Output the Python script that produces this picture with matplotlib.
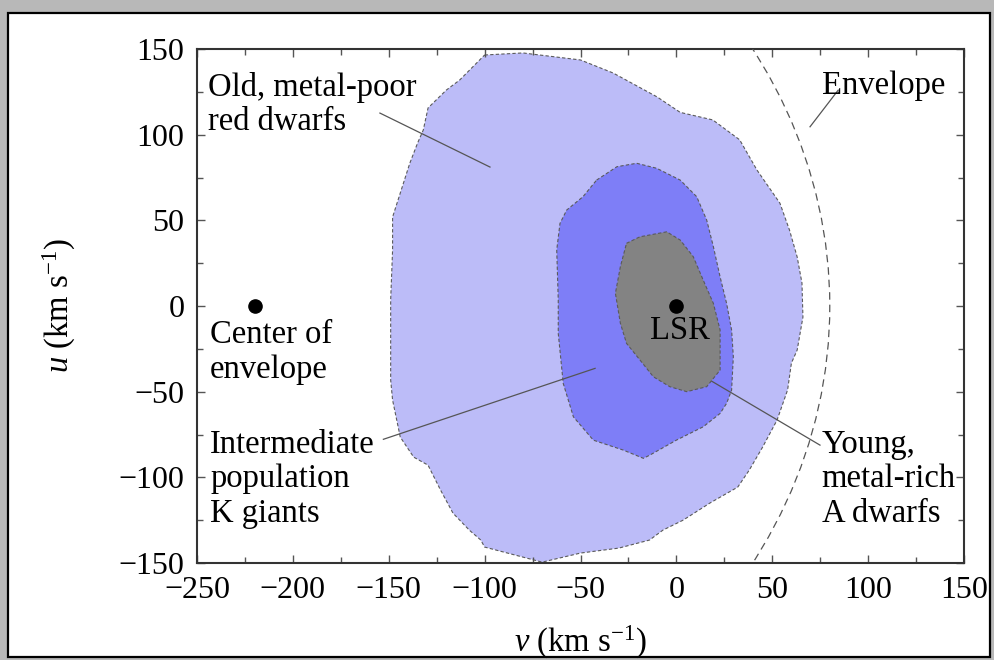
import matplotlib
matplotlib.use("Agg")
import matplotlib.pyplot as plt
from matplotlib.patches import Polygon, Circle, Rectangle
from matplotlib.ticker import MultipleLocator

# Datos (v, u en km/s)
# Region exterior: enanas rojas viejas, pobres en metales
viejas_v = [-100, -80, -75, -50, -33, -10, 2, 19, 33, 42, 54, 59, 63, 65.5, 66,
            63, 60, 58, 52.5, 45, 38, 32, 17.5, 3.5, -7, -14, -30, -50, -70,
            -100, -102, -108, -116.5, -123, -129.5, -137, -144, -148, -149,
            -149, -149, -148, -148, -143, -139, -135, -132, -129.5, -120, -113]
viejas_u = [146.5, 147.7, 147, 143.6, 136, 122, 113, 108.6, 97, 79.4, 60, 44.3,
            28.6, 13.4, -6.5, -25.7, -33.3, -49, -66.6, -82.3, -95.8, -105.7,
            -115, -125, -130.8, -136.6, -141.3, -144.2, -149.5, -140.7, -136.6,
            -130.8, -120.9, -107.4, -92.9, -88.2, -76.5, -54.9, -43.2, -19.9,
            3.5, 32.7, 51.9, 69.4, 83.4, 95, 102.7, 115.6, 126, 131.9]

# Region media: gigantes K de poblacion intermedia
gigantes_v = [-41.6, -31, -20.7, -10.3, 2, 10.6, 15.8, 19.3, 22.8, 26.2, 28.8,
              29.7, 28.8, 26.2, 22.8, 14, 0, -13.8, -17.2, -27.7, -43.3, -53.7,
              -59, -61.6, -61.6, -62.4, -60.7, -57.2, -48.7]
gigantes_u = [73.5, 81.3, 83.3, 80.4, 73.5, 63.8, 50.2, 34.6, 17, 1.5, -14,
              -29.6, -49.1, -56.8, -62.7, -70.5, -78.3, -87, -88.9, -84.1,
              -78.3, -64.7, -45.2, -16, 3.5, 32.7, 48.2, 56, 63.8]

# Region interior: enanas A jovenes, ricas en metales
jovenes_v = [-26, -19, -5, 2, 8.8, 14, 19.3, 22.8, 22.8, 22.8, 15.8, 5.4, -3.4,
             -12, -19, -26, -29.2, -31.8, -29.2]
jovenes_u = [36.6, 40.4, 43.3, 38.5, 28.8, 15.1, 1.5, -14, -29.6, -37.4, -47.1,
             -50, -47.1, -41.3, -31.5, -21.8, -10.1, 7.4, 23]

# Envolvente (circulo) y puntos
centro_envolvente = (-220, 0)
radio_envolvente = 300
lsr = (0, 0)

# Textos y lineas guia (texto, base de la ultima linea, inicio y fin de la guia)
etiquetas = [
    ("Old, metal-poor\nred dwarfs", (-244.3, 102.5), (-154.6, 112.6), (-97.2, 81.1)),
    ("Envelope", (76, 124), (84.4, 126), (69.7, 104.6)),
    ("Center of\nenvelope", (-243.2, -42), None, None),
    ("Intermediate\npopulation\nK giants", (-243.2, -126), (-152.8, -77.8), (-42.4, -36.4)),
    ("Young,\nmetal-rich\nA dwarfs", (75.7, -126), (74.9, -81.2), (7.1, -36.4)),
]

plt.rcParams['font.family'] = ['Liberation Serif', 'DejaVu Serif']
plt.rcParams['mathtext.fontset'] = 'custom'
plt.rcParams['mathtext.rm'] = 'Liberation Serif'
plt.rcParams['mathtext.it'] = 'Liberation Serif:italic'

fig = plt.figure(figsize=(9.95, 6.6), dpi=100)
fig.patch.set_facecolor('#b8b8b8')
# marco blanco con borde negro (detras de los ejes)
fondo = fig.add_axes([0, 0, 1, 1], zorder=-1)
fondo.set_axis_off()
fondo.add_patch(Rectangle((8/995, 3/660), 982/995, 644/660, transform=fondo.transAxes,
                          facecolor='white', edgecolor='black', linewidth=1.6))

ax = fig.add_axes([197/995, 1 - 563/660, 767/995, 514/660])
ax.set_facecolor('none')
ax.set_xlim(-250, 150)
ax.set_ylim(-150, 150)

borde = dict(edgecolor='#5a5a5a', linewidth=0.8, linestyle=(0, (3, 2)))
ax.add_patch(Polygon(list(zip(viejas_v, viejas_u)), closed=True, facecolor='#bcbcf8', zorder=1, **borde))
ax.add_patch(Polygon(list(zip(gigantes_v, gigantes_u)), closed=True, facecolor='#7e7ef7', zorder=2, **borde))
ax.add_patch(Polygon(list(zip(jovenes_v, jovenes_u)), closed=True, facecolor='#838383', zorder=3, **borde))

ax.add_patch(Circle(centro_envolvente, radio_envolvente, fill=False, edgecolor='#555555',
                    linewidth=0.9, linestyle=(0, (6, 4)), zorder=4))

ax.plot(*centro_envolvente, 'o', color='black', markersize=9.5, zorder=5)
ax.plot(*lsr, 'o', color='black', markersize=9.5, zorder=5)
ax.text(2, -19, "LSR", fontsize=23.5, ha='center', va='baseline', zorder=6)

for texto, pos, ini, fin in etiquetas:
    ax.text(pos[0], pos[1], texto, fontsize=23.5, ha='left', va='baseline',
            linespacing=1.17, zorder=6)
    if ini is not None:
        # la guia de las enanas A queda debajo de la region gris
        z = 2.5 if texto.startswith("Young") else 4.5
        ax.plot([ini[0], fin[0]], [ini[1], fin[1]], color='#555555', linewidth=0.9, zorder=z)

# Ejes y marcas
ax.xaxis.set_major_locator(MultipleLocator(50))
ax.xaxis.set_minor_locator(MultipleLocator(25))
ax.yaxis.set_major_locator(MultipleLocator(50))
ax.yaxis.set_minor_locator(MultipleLocator(25))
ax.tick_params(which='both', direction='in', top=True, right=True, color='#555555')
ax.tick_params(which='major', length=6, width=1, labelsize=23, pad=9)
ax.tick_params(which='minor', length=4, width=1)
for s in ax.spines.values():
    s.set_linewidth(1.5)
    s.set_color('#333333')

ax.set_xlabel(r"$v$ (km s$^{-1}$)", fontsize=23.5)
ax.set_ylabel(r"$u$ (km s$^{-1}$)", fontsize=23.5)
ax.xaxis.set_label_coords(0.5, -0.118)
ax.yaxis.set_label_coords(-0.155, 0.5)

fig.savefig('out.png', dpi=100, facecolor=fig.get_facecolor())
